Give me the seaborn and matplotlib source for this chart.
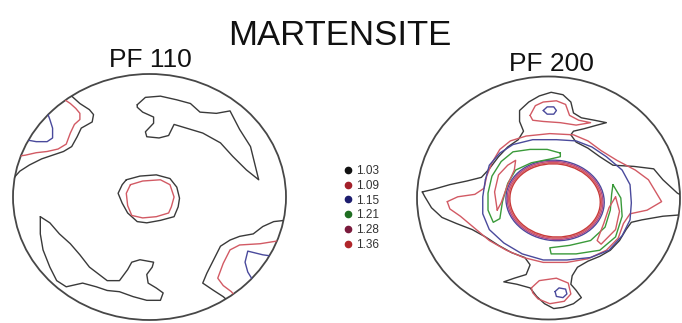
import pandas as pd
import matplotlib.pyplot as plt
import seaborn as sns
from matplotlib.patches import Ellipse
from matplotlib.lines import Line2D

sns.set_style('white')
plt.rcParams['font.family'] = ['Liberation Sans', 'DejaVu Sans']

# contour levels (legend)
levels = ['1.03', '1.09', '1.15', '1.21', '1.28', '1.36']
marker_colors = ['#111111', '#a3202a', '#1c1c6e', '#1f6e22', '#7a1a3c', '#b0262a']
line_colors = {'1.03': '#3a3a3a', '1.09': '#d25a64', '1.15': '#4a4a9c',
               '1.21': '#3a9a3a', '1.28': '#b04a88', '1.36': '#c83a3a'}

# ---- PF 110 contours (projection coords, unit circle) ----
pf110_tl_black_u = [-0.61, -0.51, -0.44, -0.41, -0.42, -0.50, -0.53, -0.57, -0.63, -0.71, -0.79, -0.88, -0.95, -0.99, -1.02]
pf110_tl_black_v = [0.86, 0.76, 0.71, 0.67, 0.61, 0.56, 0.49, 0.41, 0.37, 0.34, 0.31, 0.26, 0.21, 0.16, 0.14]
pf110_tl_red_u = [-0.64, -0.62, -0.58, -0.54, -0.51, -0.51, -0.55, -0.58, -0.61, -0.67, -0.75, -0.83, -0.91, -0.97]
pf110_tl_red_v = [0.82, 0.79, 0.76, 0.72, 0.68, 0.63, 0.59, 0.52, 0.43, 0.39, 0.37, 0.36, 0.34, 0.33]
pf110_tl_blue_u = [-0.75, -0.73, -0.71, -0.71, -0.75, -0.83, -0.88, -0.92]
pf110_tl_blue_v = [0.69, 0.63, 0.56, 0.48, 0.45, 0.45, 0.46, 0.46]

pf110_tr_black_u = [-0.09, -0.03, 0.08, 0.20, 0.30, 0.37, 0.49, 0.59, 0.66, 0.74, 0.80, 0.71, 0.61, 0.52, 0.39, 0.27, 0.18, 0.14, 0.07, -0.02, -0.03, 0.03, 0.03, -0.05, -0.09]
pf110_tr_black_v = [0.75, 0.81, 0.82, 0.79, 0.76, 0.69, 0.68, 0.70, 0.55, 0.41, 0.14, 0.22, 0.33, 0.44, 0.52, 0.56, 0.59, 0.50, 0.48, 0.49, 0.53, 0.60, 0.65, 0.69, 0.73]

pf110_c_black_u = [-0.17, -0.07, 0.05, 0.15, 0.20, 0.22, 0.21, 0.18, 0.08, -0.02, -0.09, -0.16, -0.20, -0.23, -0.20]
pf110_c_black_v = [0.14, 0.17, 0.18, 0.15, 0.08, -0.01, -0.08, -0.16, -0.19, -0.21, -0.20, -0.13, -0.05, 0.03, 0.10]
pf110_c_red_u = [-0.14, -0.05, 0.08, 0.15, 0.18, 0.16, 0.14, 0.05, -0.05, -0.13, -0.16, -0.17]
pf110_c_red_v = [0.10, 0.13, 0.14, 0.10, 0.00, -0.08, -0.13, -0.16, -0.17, -0.15, -0.07, 0.03]

pf110_bl_black_u = [-0.80, -0.73, -0.66, -0.58, -0.51, -0.44, -0.31, -0.22, -0.16, -0.13, -0.07, 0.03, 0.02, -0.02, -0.01, 0.05, 0.10, 0.08, -0.02, -0.12, -0.22, -0.31, -0.39, -0.49, -0.61, -0.68, -0.73, -0.78, -0.80]
pf110_bl_black_v = [-0.16, -0.21, -0.30, -0.38, -0.47, -0.57, -0.68, -0.68, -0.59, -0.53, -0.51, -0.53, -0.57, -0.63, -0.70, -0.74, -0.78, -0.84, -0.84, -0.81, -0.77, -0.76, -0.73, -0.70, -0.73, -0.68, -0.57, -0.43, -0.30]

pf110_br_black_u = [1.03, 0.99, 0.91, 0.83, 0.76, 0.66, 0.59, 0.52, 0.47, 0.42, 0.39, 0.47, 0.54, 0.59]
pf110_br_black_v = [-0.18, -0.19, -0.20, -0.24, -0.30, -0.32, -0.35, -0.40, -0.51, -0.62, -0.70, -0.76, -0.81, -0.86]
pf110_br_red_u = [0.98, 0.81, 0.66, 0.59, 0.54, 0.50, 0.54, 0.60, 0.65]
pf110_br_red_v = [-0.35, -0.38, -0.39, -0.43, -0.54, -0.66, -0.72, -0.77, -0.84]
pf110_br_blue_u = [0.96, 0.83, 0.72, 0.70, 0.72, 0.77]
pf110_br_blue_v = [-0.49, -0.47, -0.44, -0.53, -0.61, -0.70]

# ---- PF 200 contours ----
pf200_outer_black_u = [-0.96, -0.88, -0.75, -0.62, -0.51, -0.45, -0.38, -0.31, -0.23, -0.19, -0.22, -0.22, -0.15, -0.07, 0.02, 0.11, 0.17, 0.19, 0.25, 0.35, 0.44, 0.37, 0.27, 0.19, 0.17, 0.21, 0.30, 0.39, 0.49, 0.65, 0.80, 0.87, 0.98, 1.05, 1.05, 0.99, 0.87, 0.71, 0.63, 0.59, 0.54, 0.47, 0.39, 0.30, 0.22, 0.18, 0.17, 0.21, 0.25, 0.19, 0.11, 0.04, -0.03, -0.09, -0.14, -0.24, -0.34, -0.26, -0.17, -0.14, -0.18, -0.28, -0.38, -0.48, -0.58, -0.70, -0.81, -0.89, -0.94]
pf200_outer_black_v = [0.05, 0.07, 0.11, 0.14, 0.17, 0.24, 0.34, 0.42, 0.48, 0.55, 0.63, 0.72, 0.79, 0.84, 0.87, 0.85, 0.79, 0.70, 0.66, 0.64, 0.62, 0.60, 0.57, 0.55, 0.52, 0.46, 0.41, 0.34, 0.27, 0.26, 0.24, 0.15, 0.04, 0.00, -0.13, -0.14, -0.15, -0.18, -0.20, -0.26, -0.35, -0.43, -0.48, -0.52, -0.57, -0.64, -0.71, -0.76, -0.82, -0.87, -0.90, -0.91, -0.87, -0.81, -0.74, -0.71, -0.69, -0.66, -0.63, -0.55, -0.49, -0.45, -0.39, -0.32, -0.26, -0.21, -0.16, -0.08, 0.01]
pf200_outer_red_u = [-0.77, -0.69, -0.56, -0.49, -0.47, -0.43, -0.37, -0.29, -0.17, 0.01, 0.19, 0.30, 0.40, 0.52, 0.66, 0.76, 0.86, 0.75, 0.62, 0.57, 0.53, 0.44, 0.30, 0.14, -0.04, -0.19, -0.32, -0.45, -0.56, -0.67, -0.75]
pf200_outer_red_v = [-0.03, 0.01, 0.03, 0.08, 0.18, 0.29, 0.40, 0.47, 0.51, 0.53, 0.52, 0.47, 0.39, 0.31, 0.23, 0.15, -0.03, -0.10, -0.13, -0.21, -0.33, -0.43, -0.50, -0.53, -0.53, -0.49, -0.43, -0.35, -0.25, -0.15, -0.09]
pf200_blue_u = [-0.48, -0.45, -0.37, -0.27, -0.12, 0.06, 0.21, 0.33, 0.44, 0.56, 0.62, 0.63, 0.62, 0.56, 0.46, 0.32, 0.14, -0.04, -0.20, -0.34, -0.45, -0.50, -0.50]
pf200_blue_v = [0.15, 0.27, 0.37, 0.44, 0.48, 0.48, 0.47, 0.42, 0.34, 0.23, 0.11, -0.04, -0.18, -0.31, -0.43, -0.49, -0.51, -0.51, -0.46, -0.37, -0.26, -0.13, 0.01]
pf200_green_ul_u = [0.09, -0.01, -0.14, -0.27, -0.36, -0.43, -0.46, -0.46, -0.42, -0.37, -0.35, -0.31, -0.25, -0.13, 0.01, 0.09]
pf200_green_ul_v = [0.37, 0.40, 0.40, 0.38, 0.30, 0.18, 0.04, -0.10, -0.20, -0.17, -0.03, 0.12, 0.23, 0.29, 0.32, 0.34]
pf200_pink_ul_u = [-0.39, -0.41, -0.38, -0.31, -0.25, -0.26, -0.31, -0.36]
pf200_pink_ul_v = [-0.10, 0.05, 0.19, 0.27, 0.31, 0.23, 0.11, -0.04]
pf200_green_lr_u = [0.49, 0.55, 0.56, 0.51, 0.39, 0.21, 0.02, 0.01, 0.16, 0.32, 0.43, 0.47, 0.48]
pf200_green_lr_v = [0.11, 0.00, -0.15, -0.32, -0.43, -0.46, -0.46, -0.41, -0.39, -0.35, -0.24, -0.10, 0.03]
pf200_pink_lr_u = [0.51, 0.54, 0.51, 0.40, 0.37, 0.42, 0.46]
pf200_pink_lr_v = [0.01, -0.11, -0.26, -0.38, -0.35, -0.21, -0.08]
pf200_top_red_u = [-0.14, -0.10, -0.04, 0.06, 0.13, 0.16, 0.23, 0.32, 0.21, 0.09, -0.04, -0.12]
pf200_top_red_v = [0.68, 0.76, 0.79, 0.80, 0.77, 0.68, 0.64, 0.62, 0.60, 0.62, 0.63, 0.64]
pf200_top_blue_u = [-0.04, -0.01, 0.04, 0.06, 0.04, -0.01]
pf200_top_blue_v = [0.72, 0.75, 0.75, 0.72, 0.69, 0.69]
pf200_bot_red_u = [-0.13, -0.07, 0.06, 0.15, 0.17, 0.12, 0.01, -0.08, -0.12]
pf200_bot_red_v = [-0.74, -0.68, -0.66, -0.70, -0.79, -0.85, -0.87, -0.83, -0.78]
pf200_bot_blue_u = [0.05, 0.08, 0.13, 0.14, 0.11, 0.06]
pf200_bot_blue_v = [-0.77, -0.74, -0.75, -0.79, -0.82, -0.81]

# tight rings round the central hole of PF 200: centre, full width/height, tilt
ring_levels = ['1.15', '1.28', '1.09', '1.36']
ring_width = [0.75, 0.73, 0.71, 0.69]
ring_height = [0.66, 0.64, 0.62, 0.60]
ring_center = (0.05, -0.02)
ring_angle = -10

pf110 = [
    ('1.03', pf110_tl_black_u, pf110_tl_black_v, False),
    ('1.09', pf110_tl_red_u, pf110_tl_red_v, False),
    ('1.15', pf110_tl_blue_u, pf110_tl_blue_v, False),
    ('1.03', pf110_tr_black_u, pf110_tr_black_v, True),
    ('1.03', pf110_c_black_u, pf110_c_black_v, True),
    ('1.09', pf110_c_red_u, pf110_c_red_v, True),
    ('1.03', pf110_bl_black_u, pf110_bl_black_v, True),
    ('1.03', pf110_br_black_u, pf110_br_black_v, False),
    ('1.09', pf110_br_red_u, pf110_br_red_v, False),
    ('1.15', pf110_br_blue_u, pf110_br_blue_v, False),
]
pf200 = [
    ('1.03', pf200_outer_black_u, pf200_outer_black_v, True),
    ('1.09', pf200_outer_red_u, pf200_outer_red_v, True),
    ('1.15', pf200_blue_u, pf200_blue_v, True),
    ('1.21', pf200_green_ul_u, pf200_green_ul_v, True),
    ('1.09', pf200_pink_ul_u, pf200_pink_ul_v, True),
    ('1.21', pf200_green_lr_u, pf200_green_lr_v, True),
    ('1.09', pf200_pink_lr_u, pf200_pink_lr_v, True),
    ('1.09', pf200_top_red_u, pf200_top_red_v, True),
    ('1.15', pf200_top_blue_u, pf200_top_blue_v, True),
    ('1.09', pf200_bot_red_u, pf200_bot_red_v, True),
    ('1.15', pf200_bot_blue_u, pf200_bot_blue_v, True),
]


def draw_pf(ax, contours, with_rings=False):
    edge = Ellipse((0, 0), 2, 2, fill=False, ec='#474747', lw=1.3, clip_on=False)
    ax.add_patch(edge)
    for level, u, v, closed in contours:
        if closed:
            u = list(u) + [u[0]]
            v = list(v) + [v[0]]
        df = pd.DataFrame({'u': u, 'v': v})
        sns.lineplot(data=df, x='u', y='v', sort=False, estimator=None,
                     color=line_colors[level], lw=1.0, ax=ax)
    if with_rings:
        for level, w, h in zip(ring_levels, ring_width, ring_height):
            ax.add_patch(Ellipse(ring_center, w, h, angle=ring_angle, fill=False,
                                 ec=line_colors[level], lw=1.0))
    for line in ax.lines:
        line.set_clip_path(edge)
    ax.set_xlim(-1, 1)
    ax.set_ylim(-1, 1)
    ax.set_axis_off()


W, H = 682, 323
fig = plt.figure(figsize=(6.82, 3.23), dpi=100)
ax1 = fig.add_axes([13 / W, (H - 320) / H, 273 / W, 246 / H])
ax2 = fig.add_axes([417 / W, (H - 319.5) / H, 263 / W, 243 / H])
draw_pf(ax1, pf110)
draw_pf(ax2, pf200, with_rings=True)

fig.text(340 / W, 1 - 45 / H, 'MARTENSITE', ha='center', va='baseline', fontsize=25, color='#111111')
fig.text(150 / W, 1 - 67 / H, 'PF 110', ha='center', va='baseline', fontsize=19, color='#111111')
fig.text(551 / W, 1 - 71 / H, 'PF 200', ha='center', va='baseline', fontsize=19, color='#111111')

handles = [Line2D([], [], ls='none', marker='o', ms=4.5, color=c) for c in marker_colors]
fig.legend(handles, levels, loc='upper left', bbox_to_anchor=(338 / W, 1 - 159 / H),
           frameon=False, fontsize=8.5, borderpad=0, handlelength=0.7, handletextpad=0.35,
           labelspacing=0.24, labelcolor='#333333')

fig.savefig('out.png', dpi=100)
